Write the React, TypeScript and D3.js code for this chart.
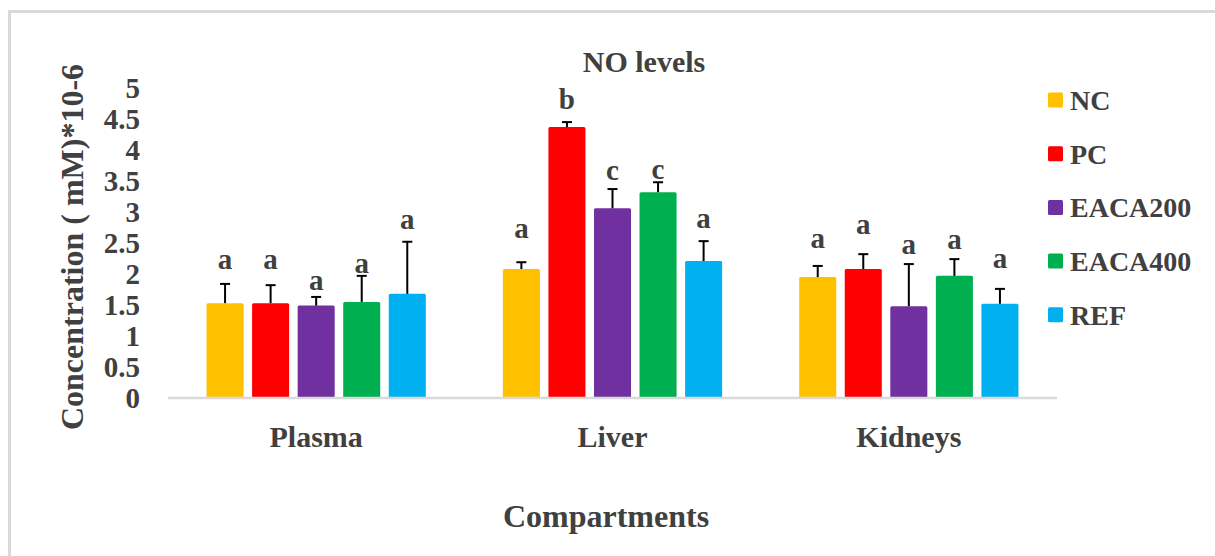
import React from 'react';
import * as d3 from 'd3';

const compartments = ['Plasma', 'Liver', 'Kidneys'];
const groups = ['NC', 'PC', 'EACA200', 'EACA400', 'REF'];
const colors = ['#FFC000', '#FF0000', '#7030A0', '#00B050', '#00B0F0'];

// mean values per group, in compartment order
const ncValues = [1.53, 2.08, 1.95];
const pcValues = [1.53, 4.37, 2.08];
const eaca200Values = [1.49, 3.06, 1.48];
const eaca400Values = [1.55, 3.32, 1.97];
const refValues = [1.68, 2.21, 1.52];

// upper error (SD)
const ncErrors = [0.31, 0.11, 0.18];
const pcErrors = [0.29, 0.08, 0.24];
const eaca200Errors = [0.14, 0.31, 0.68];
const eaca400Errors = [0.42, 0.16, 0.27];
const refErrors = [0.84, 0.32, 0.24];

// significance letters and the level they sit at
const ncLetters = ['a', 'a', 'a'];
const pcLetters = ['a', 'b', 'a'];
const eaca200Letters = ['a', 'c', 'a'];
const eaca400Letters = ['a', 'c', 'a'];
const refLetters = ['a', 'a', 'a'];
const ncLetterLevels = [2.08, 2.58, 2.42];
const pcLetterLevels = [2.08, 4.66, 2.65];
const eaca200LetterLevels = [1.74, 3.52, 2.32];
const eaca400LetterLevels = [2.02, 3.53, 2.4];
const refLetterLevels = [2.73, 2.74, 2.1];

const yTicks = [0, 0.5, 1, 1.5, 2, 2.5, 3, 3.5, 4, 4.5, 5];

const values = [ncValues, pcValues, eaca200Values, eaca400Values, refValues];
const errors = [ncErrors, pcErrors, eaca200Errors, eaca400Errors, refErrors];
const letters = [ncLetters, pcLetters, eaca200Letters, eaca400Letters, refLetters];
const letterLevels = [ncLetterLevels, pcLetterLevels, eaca200LetterLevels, eaca400LetterLevels, refLetterLevels];

const W = 1215;
const H = 556;
const FONT = '"Liberation Serif", "Times New Roman", serif';
const TEXT = '#404040';

const App: React.FC = () => {
  const x0 = d3.scaleBand<string>().domain(compartments).range([168, 1057]).padding(0);
  const x1 = d3.scaleBand<string>()
    .domain(groups)
    .range([0, x0.bandwidth()])
    .paddingInner(0.187)
    .paddingOuter(0.846);
  const y = d3.scaleLinear().domain([0, 5]).range([398, 88]);

  const capW = 10;

  return (
    <svg width={W} height={H} style={{ position: 'absolute', left: 0, top: 0 }} fontFamily={FONT}>
      <rect x={0} y={0} width={W} height={H} fill="#fff" />
      {/* chart frame */}
      <rect x={9.5} y={11.5} width={W + 20} height={H + 20} fill="none" stroke="#d9d9d9" strokeWidth={3} />

      {/* title */}
      <text x={644} y={72} textAnchor="middle" fontSize={30} fontWeight="bold" fill={TEXT}>
        NO levels
      </text>

      {/* y axis tick labels */}
      {yTicks.map(t => (
        <text key={t} x={140} y={y(t)} dy="0.35em" textAnchor="end" fontSize={29} fontWeight="bold" fill={TEXT}>
          {t}
        </text>
      ))}

      {/* y axis title */}
      <text
        transform={`translate(83,247) rotate(-90)`}
        textAnchor="middle"
        fontSize={32}
        fontWeight="bold"
        fill={TEXT}
      >
        Concentration ( mM)*10-6
      </text>

      {/* bars */}
      {compartments.map((c, ci) => (
        <g key={c} transform={`translate(${x0(c)},0)`}>
          {groups.map((g, gi) => {
            const v = values[gi][ci];
            const e = errors[gi][ci];
            const bx = x1(g) || 0;
            const bw = x1.bandwidth();
            const cx = bx + bw / 2;
            return (
              <g key={g}>
                <rect x={bx} y={y(v)} width={bw} height={y(0) - y(v)} fill={colors[gi]} rx={1.5} />
                <line x1={cx} x2={cx} y1={y(v)} y2={y(v + e)} stroke="#000" strokeWidth={2} />
                <line x1={cx - capW / 2} x2={cx + capW / 2} y1={y(v + e)} y2={y(v + e)} stroke="#000" strokeWidth={2} />
                <text x={cx} y={y(letterLevels[gi][ci])} textAnchor="middle" fontSize={29} fontWeight="bold" fill={TEXT}>
                  {letters[gi][ci]}
                </text>
              </g>
            );
          })}
        </g>
      ))}

      {/* baseline */}
      <line x1={168} x2={1057} y1={y(0)} y2={y(0)} stroke="#d9d9d9" strokeWidth={2.5} />

      {/* category labels */}
      {compartments.map(c => (
        <text key={c} x={(x0(c) || 0) + x0.bandwidth() / 2} y={447} textAnchor="middle" fontSize={30} fontWeight="bold" fill={TEXT}>
          {c}
        </text>
      ))}

      {/* x axis title */}
      <text x={606} y={527} textAnchor="middle" fontSize={32} fontWeight="bold" fill={TEXT}>
        Compartments
      </text>

      {/* legend */}
      {groups.map((g, i) => {
        const ly = 100 + i * 53.7;
        return (
          <g key={g} transform={`translate(1048,${ly})`}>
            <rect x={0} y={-7.5} width={15} height={15} fill={colors[i]} rx={1.5} />
            <text x={22} y={0} dy="0.35em" fontSize={28} fontWeight="bold" fill={TEXT}>
              {g}
            </text>
          </g>
        );
      })}
    </svg>
  );
};

export default App;
